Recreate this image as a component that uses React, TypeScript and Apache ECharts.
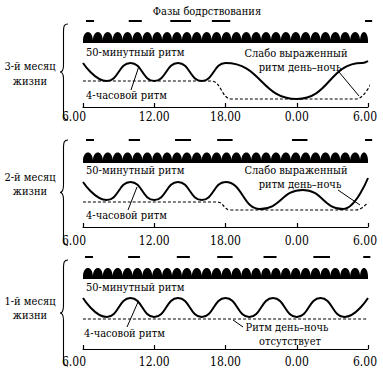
import React, { useEffect, useRef } from 'react';
import * as echarts from 'echarts';

// ---- data (hours counted from 6.00 in the morning) ----
const HOUR_TICKS = ['6.00', '12.00', '18.00', '0.00', '6.00'];
const CYCLE_MINUTES = 50; // 50-minute rhythm
const DAY_SPAN = [[0, 24]];

const TITLE = 'Фазы бодрствования';
const LABEL_50 = '50-минутный ритм';
const LABEL_4H = '4-часовой ритм';

// 3rd month
const WAKE_M3 = [[0.25, 0.93], [3.85, 4.95], [7.35, 9.1], [10.85, 12.4], [23.75, 24.35]];
const SOLID_M3 = [[0, 44], [2, 26], [4, 44], [6, 26], [8, 44], [10, 26], [12, 44], [18, 8], [23.5, 44], [24, 46]];
const DASH_M3 = [[0, 26], [10.8, 26], [12.5, 8], [23, 8], [24.4, 27]];

// 2nd month
const WAKE_M2 = [[0.25, 0.93], [3.85, 4.8], [7.75, 9.1], [11.3, 12.6], [17.6, 18.9], [23.75, 24.35]];
const SOLID_M2 = [[0, 45], [2, 27], [4, 45], [6, 27], [8, 45], [10, 27], [12, 45], [14.9, 18], [18.5, 37], [21.9, 18], [24, 49]];
const DASH_M2 = [[0, 25], [11.3, 25], [12.4, 17], [23, 17], [24, 25]];

// 1st month
const WAKE_M1 = [[0.17, 0.84], [3.8, 4.8], [7.9, 9.0], [11.3, 12.6], [15.2, 16.3], [19.4, 20.8], [23.6, 24.2]];
const SOLID_M1 = [[0, 51], [2, 32], [4, 51], [6, 32], [8, 51], [10, 32], [12, 51], [14, 32], [16, 51], [18, 32], [20, 51], [22, 32], [24, 51]];
const DASH_M1 = [[0, 30], [24, 30]];

// ---- layout (pixels / levels) ----
const FF = 'DejaVu Serif Condensed, DejaVu Serif';
const FS = 11;
const TICK_FS = 12;
const GRID_H = 92;
const PANELS = [
  {
    month: ['3-й месяц', 'жизни'], wake: WAKE_M3, solid: SOLID_M3, dash: DASH_M3,
    top: 15, barLevel: 86, bandBottom: 64, bandBase: 67, bandTop: 75, labelMargin: 4,
    monthY: [66, 81], brace: [24, 120],
    texts: [
      { t: LABEL_50, x: 86, y: 52, a: 'left' },
      { t: LABEL_4H, x: 86, y: 95, a: 'left' },
      { t: 'Слабо выраженный', x: 296, y: 53, a: 'center' },
      { t: 'ритм день–ночь', x: 300, y: 67, a: 'center' },
    ],
    leaders: [[131, 90, 139, 66], [339, 72, 359, 96]],
  },
  {
    month: ['2-й месяц', 'жизни'], wake: WAKE_M2, solid: SOLID_M2, dash: DASH_M2,
    top: 135, barLevel: 87, bandBottom: 64, bandBase: 67, bandTop: 74.5, labelMargin: 8,
    monthY: [177, 191], brace: [140, 245],
    texts: [
      { t: LABEL_50, x: 86, y: 170, a: 'left' },
      { t: LABEL_4H, x: 86, y: 215, a: 'left' },
      { t: 'Слабо выраженный', x: 296, y: 170, a: 'center' },
      { t: 'ритм день–ночь', x: 300, y: 184, a: 'center' },
    ],
    leaders: [[128, 210, 137, 187], [338, 190, 360, 205]],
  },
  {
    month: ['1-й месяц', 'жизни'], wake: WAKE_M1, solid: SOLID_M1, dash: DASH_M1,
    top: 257, barLevel: 92, bandBottom: 70, bandBase: 73, bandTop: 81, labelMargin: 7,
    monthY: [301, 315], brace: [260, 366],
    texts: [
      { t: LABEL_50, x: 86, y: 287, a: 'left' },
      { t: LABEL_4H, x: 84, y: 333, a: 'left' },
      { t: 'Ритм день–ночь', x: 287, y: 327, a: 'center' },
      { t: 'отсутствует', x: 290, y: 341, a: 'center' },
    ],
    leaders: [[127, 327, 138, 302], [233, 320, 243, 327]],
  },
];

const BRACE_H = 96;
const braceD = (() => {
  const H = BRACE_H, m = H / 2;
  return `M8,0 C4,0 3.5,2 3.5,8 L3.5,${m - 7} C3.5,${m - 2} 2,${m} 0,${m} C2,${m} 3.5,${m + 2} 3.5,${m + 7} L3.5,${H - 8} C3.5,${H - 2} 4,${H} 8,${H}`;
})();
let braceRegistered = false;

const txt = (text: string, x: number, y: number, align: string) => ({
  type: 'text', x, y,
  style: { text, fontFamily: FF, fontSize: FS, lineHeight: FS, fill: '#000', align, verticalAlign: 'middle', textAlign: align, textVerticalAlign: 'middle' },
});

export default function App() {
  const ref = useRef<HTMLDivElement>(null);
  useEffect(() => {
    if (!braceRegistered) {
      echarts.graphic.registerShape('brace', echarts.graphic.extendPath(braceD, {}) as any);
      braceRegistered = true;
    }
    const chart = echarts.init(ref.current!, null, { renderer: 'svg' });

    const grid: any[] = [];
    const xAxis: any[] = [];
    const yAxis: any[] = [];
    const series: any[] = [];
    const graphic: any[] = [];

    graphic.push(txt(TITLE, 207, 11, 'center'));

    PANELS.forEach((P, i) => {
      grid.push({ left: 83, right: 15, top: P.top, height: GRID_H });
      xAxis.push({
        gridIndex: i, type: 'value', min: 0, max: 24, interval: 6,
        axisLine: { lineStyle: { color: '#000', width: 1.2 } },
        axisTick: { inside: true, length: 4, lineStyle: { color: '#000', width: 1.2 } },
        splitLine: { show: false },
        axisLabel: {
          formatter: (v: number) => {
            const k = Math.round(v / 6);
            if (k === 0) return '{first|' + HOUR_TICKS[k] + '}';
            if (k === 4) return '{last|' + HOUR_TICKS[k] + '}';
            return '{mid|' + HOUR_TICKS[k] + '}';
          },
          color: '#000', fontFamily: FF, fontSize: TICK_FS, margin: P.labelMargin,
          rich: {
            first: { fontFamily: FF, fontSize: TICK_FS, color: '#000', padding: [0, 18, 0, 0] },
            mid: { fontFamily: FF, fontSize: TICK_FS, color: '#000' },
            last: { fontFamily: FF, fontSize: TICK_FS, color: '#000', padding: [0, 6, 0, 0] },
          },
        },
      });
      yAxis.push({ gridIndex: i, type: 'value', min: 0, max: GRID_H, show: false });

      // 50-minute rhythm band
      series.push({
        type: 'custom', xAxisIndex: i, yAxisIndex: i, data: DAY_SPAN, silent: true,
        renderItem: (params: any, api: any) => {
          const x0 = api.coord([api.value(0), 0])[0];
          const x1 = api.coord([api.value(1), 0])[0];
          const yB = api.coord([0, P.bandBottom])[1];
          const yBase = api.coord([0, P.bandBase])[1];
          const yTop = api.coord([0, P.bandTop])[1];
          const w = api.size([CYCLE_MINUTES / 60, 0])[0];
          const cy = yBase - (yBase - yTop) / 0.75;
          let d = `M${x0},${yB} L${x0},${yBase}`;
          for (let x = x0; x < x1 - 1; x += w) {
            const xe = Math.min(x + w, x1);
            d += ` C${x + 0.5},${cy} ${xe - 0.5},${cy} ${xe},${yBase}`;
          }
          d += ` L${x1},${yB} Z`;
          return { type: 'path', shape: { pathData: d }, style: { fill: '#000' } };
        },
      });

      // wake phases
      series.push({
        type: 'custom', xAxisIndex: i, yAxisIndex: i, data: P.wake, silent: true,
        renderItem: (params: any, api: any) => {
          const p0 = api.coord([api.value(0), P.barLevel]);
          const p1 = api.coord([api.value(1), P.barLevel]);
          return { type: 'line', shape: { x1: p0[0], y1: p0[1], x2: p1[0], y2: p1[1] }, style: { stroke: '#000', lineWidth: 2 } };
        },
      });

      series.push({
        type: 'line', xAxisIndex: i, yAxisIndex: i, data: P.dash, smooth: 0.5, smoothMonotone: 'x',
        symbol: 'none', clip: false, silent: true,
        lineStyle: { color: '#000', width: 1.2, type: [3, 2] },
      });
      series.push({
        type: 'line', xAxisIndex: i, yAxisIndex: i, data: P.solid, smooth: 0.5, smoothMonotone: 'x',
        symbol: 'none', clip: false, silent: true,
        lineStyle: { color: '#000', width: 2 },
      });

      P.month.forEach((t, k) => graphic.push(txt(t, 30, P.monthY[k], 'center')));
      graphic.push({
        type: 'brace', x: 60, y: P.brace[0], scaleX: 1, scaleY: (P.brace[1] - P.brace[0]) / BRACE_H,
        style: { stroke: '#000', fill: 'none', lineWidth: 1.1 },
      });
      P.texts.forEach((tx) => graphic.push(txt(tx.t, tx.x, tx.y, tx.a)));
      P.leaders.forEach((l) => {
        graphic.push({ type: 'line', shape: { x1: l[0], y1: l[1], x2: l[2], y2: l[3] }, style: { stroke: '#000', lineWidth: 1 } });
      });
    });

    chart.setOption({
      animation: false,
      backgroundColor: '#fff',
      grid, xAxis, yAxis, series, graphic,
    });
    return () => chart.dispose();
  }, []);
  return <div ref={ref} style={{ position: 'fixed', left: 0, top: 0, width: 383, height: 373 }} />;
}
